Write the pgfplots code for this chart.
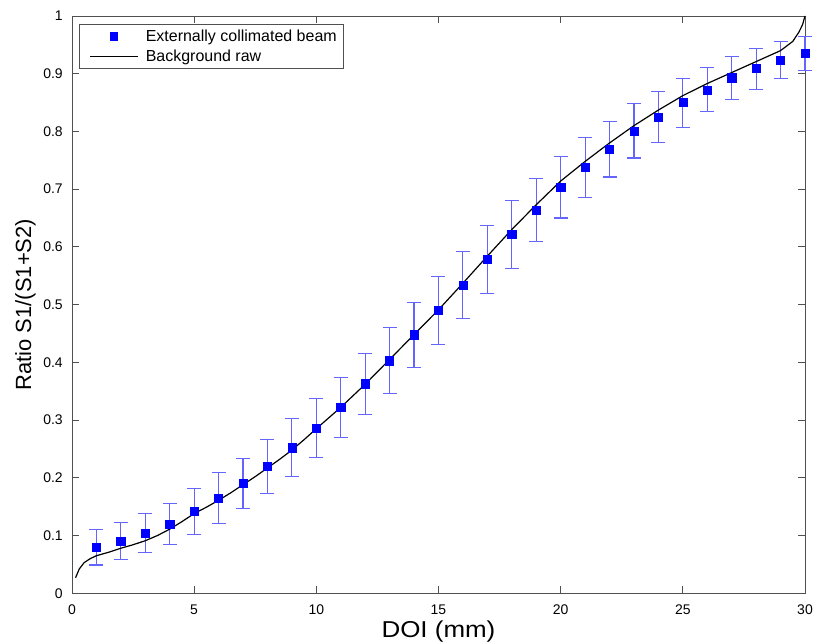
\documentclass[border=0pt]{standalone}
\usepackage{pgfplots}
\pgfplotsset{compat=1.18}
\usepackage{pgfplotstable}
\usepackage{fontspec}
\setmainfont{Liberation Sans}
\newfontfamily\xlabfont[FakeStretch=1.13]{Liberation Sans}
\definecolor{errblue}{RGB}{100,100,255}
\definecolor{axgray}{RGB}{80,80,80}
\pgfplotsset{
  legline/.style={legend image code/.code={\path[draw=none,fill=none] (0pt,0pt) -- (59pt,0pt);\draw[##1] (11pt,0pt) -- (59pt,0pt);}},
  legmark/.style={legend image code/.code={\path[draw=none,fill=none] (0pt,0pt) -- (59pt,0pt);\fill[blue,draw=none] (30.8pt,-4.3pt) rectangle (39.2pt,4.3pt);}},
}

\pgfplotstableread{
x y ep em
1 0.080 0.031 0.031
2 0.090 0.033 0.031
3 0.104 0.034 0.034
4 0.120 0.035 0.036
5 0.142 0.039 0.040
6 0.165 0.044 0.044
7 0.191 0.043 0.044
8 0.220 0.047 0.047
9 0.252 0.050 0.050
10 0.286 0.051 0.051
11 0.323 0.051 0.053
12 0.363 0.053 0.054
13 0.403 0.057 0.057
14 0.448 0.056 0.057
15 0.491 0.057 0.060
16 0.534 0.058 0.058
17 0.578 0.059 0.058
18 0.622 0.058 0.059
19 0.664 0.055 0.054
20 0.704 0.053 0.054
21 0.738 0.052 0.052
22 0.769 0.048 0.048
23 0.801 0.047 0.047
24 0.825 0.044 0.044
25 0.850 0.042 0.043
26 0.872 0.039 0.037
27 0.893 0.037 0.037
28 0.909 0.034 0.036
29 0.924 0.031 0.033
30 0.935 0.030 0.030
}\beamdata

\pgfplotstableread{
x y
0.15 0.027
0.3 0.042
0.5 0.053
0.75 0.060
1 0.065
1.5 0.071
2 0.078
2.5 0.084
3 0.091
3.5 0.100
4 0.111
4.5 0.124
5 0.138
5.5 0.149
6 0.161
6.5 0.174
7 0.188
7.5 0.202
8 0.217
8.5 0.232
9 0.248
9.5 0.266
10 0.285
11 0.322
12 0.362
13 0.405
14 0.448
15 0.491
16 0.537
17 0.584
18 0.630
19 0.673
20 0.714
21 0.748
22 0.780
23 0.810
24 0.837
25 0.862
26 0.883
27 0.902
28 0.921
29 0.940
29.5 0.956
29.75 0.972
29.9 0.985
30 1.0
}\rawdata

\begin{document}
\begin{tikzpicture}
\begin{axis}[
  name=ax,
  scale only axis,
  width=734pt, height=578pt,
  xmin=0, xmax=30, ymin=0, ymax=1,
  xtick={0,5,10,15,20,25,30},
  ytick={0,0.1,0.2,0.3,0.4,0.5,0.6,0.7,0.8,0.9,1},
  yticklabels={0,0.1,0.2,0.3,0.4,0.5,0.6,0.7,0.8,0.9,1},
  tick align=inside,
  major tick length=7pt,
  axis line style={axgray, line width=0.8pt},
  tick style={axgray, line width=0.8pt},
  /pgf/number format/assume math mode=true,
  tick label style={font=\fontsize{14}{14}\selectfont},
  xticklabel style={inner sep=0pt, anchor=north, yshift=-11pt},
  yticklabel style={inner sep=0pt, anchor=east, xshift=-9pt},
  xlabel={DOI (mm)},
  ylabel={Ratio S1/(S1+S2)},
  xlabel style={font=\xlabfont\fontsize{23}{23}\selectfont, inner sep=0pt, at={(axis description cs:0.5,0)}, anchor=north, yshift=-27.5pt},
  ylabel style={font=\fontsize{22}{22}\selectfont, inner sep=0pt, at={(axis description cs:-0.049,0.5)}, anchor=south},
  clip=false,
  legend cell align=left,
  legend style={at={(axis description cs:0.0095,0.986)}, anchor=north west,
    draw=axgray, line width=0.8pt, font=\fontsize{16}{19}\selectfont,
    inner xsep=0pt, inner ysep=2pt, row sep=0pt,
    nodes={inner xsep=7pt, inner ysep=3.5pt}},
]
\addplot[only marks, mark=square*, mark size=4.1pt, color=blue, legmark,
  error bars/.cd, y dir=both, y explicit,
  error bar style={draw=errblue, color=errblue, line width=1.1pt},
  error mark options={draw=errblue, color=errblue, rotate=90, mark size=7pt, line width=1.1pt}]
  table[x=x, y=y, y error plus=ep, y error minus=em] {\beamdata};
\addlegendentry{Externally collimated beam}
\addplot[black, line width=1.2pt, mark=none, legline]
  table[x=x, y=y] {\rawdata};
\addlegendentry{Background raw}
\end{axis}
\pgfresetboundingbox
\path ([shift={(-72pt,-50pt)}]ax.south west) rectangle ([shift={(8pt,16pt)}]ax.north east);
\end{tikzpicture}
\end{document}
